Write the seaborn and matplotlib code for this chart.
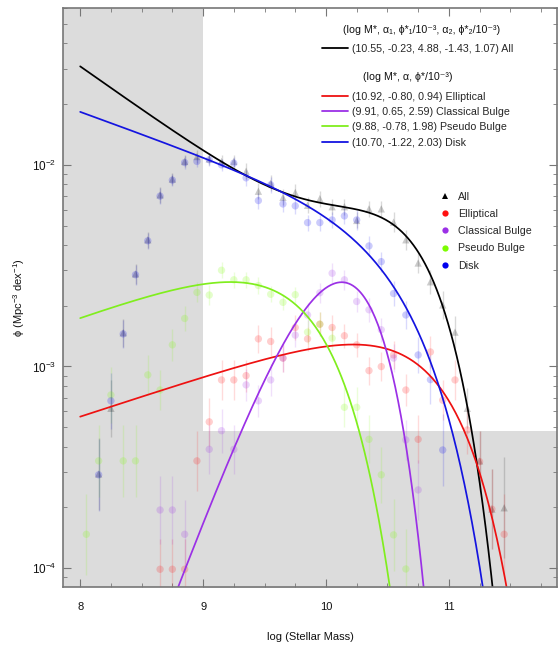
import numpy as np
import pandas as pd
import matplotlib
matplotlib.use("Agg")
import matplotlib.pyplot as plt
from matplotlib.lines import Line2D
from matplotlib.ticker import MultipleLocator, LogLocator
import seaborn as sns

# ---------------- data ----------------
# Schechter fit parameters (from the legend)
ALL_PARAMS = (10.55, -0.23, 4.88, -1.43, 1.07)      # logM*, a1, phi1/1e-3, a2, phi2/1e-3
COMP_NAMES = ["Elliptical", "Classical Bulge", "Pseudo Bulge", "Disk"]
COMP_LOGMSTAR = [10.92, 9.91, 9.88, 10.70]
COMP_ALPHA = [-0.80, 0.65, -0.78, -1.22]
COMP_PHISTAR = [0.94, 2.59, 1.98, 2.03]               # /1e-3

# binned measurements
all_m = [8.15, 8.25, 8.35, 8.45, 8.55, 8.65, 8.75, 8.85, 8.95, 9.05, 9.15, 9.25,
         9.35, 9.45, 9.55, 9.65, 9.75, 9.85, 9.95, 10.05, 10.15, 10.25, 10.35,
         10.45, 10.55, 10.65, 10.75, 10.85, 10.95, 11.05, 11.15, 11.25, 11.35, 11.45]
all_phi = [2.93e-4, 6.2e-4, 1.47e-3, 2.88e-3, 4.25e-3, 7.1e-3, 8.5e-3, 1.04e-2,
           1.10e-2, 1.07e-2, 1.04e-2, 1.04e-2, 9.3e-3, 7.4e-3, 8.1e-3, 6.9e-3,
           7.3e-3, 6.3e-3, 6.8e-3, 6.2e-3, 6.2e-3, 5.3e-3, 6.05e-3, 6.05e-3,
           5.2e-3, 4.25e-3, 3.26e-3, 2.63e-3, 2.02e-3, 1.48e-3, 6.2e-4, 3.4e-4,
           1.96e-4, 1.99e-4]
all_err = [0.18, 0.14, 0.07, 0.05, 0.04, 0.04, 0.03, 0.03, 0.03, 0.03, 0.03, 0.03,
           0.04, 0.04, 0.04, 0.04, 0.04, 0.04, 0.04, 0.04, 0.04, 0.04, 0.04, 0.04,
           0.05, 0.05, 0.05, 0.06, 0.07, 0.08, 0.10, 0.15, 0.20, 0.25]

ell_m = [8.65, 8.75, 8.85, 8.95, 9.05, 9.15, 9.25, 9.35, 9.45, 9.55, 9.65, 9.75,
         9.85, 9.95, 10.05, 10.15, 10.25, 10.35, 10.45, 10.55, 10.65, 10.75,
         10.85, 10.95, 11.05, 11.15, 11.25, 11.35, 11.45]
ell_phi = [9.86e-5, 9.86e-5, 9.86e-5, 3.40e-4, 5.31e-4, 8.57e-4, 8.57e-4, 9.0e-4,
           1.37e-3, 1.33e-3, 1.10e-3, 1.56e-3, 1.37e-3, 1.62e-3, 1.56e-3, 1.42e-3,
           1.28e-3, 9.53e-4, 9.98e-4, 1.14e-3, 7.64e-4, 4.35e-4, 1.18e-3, 6.8e-4,
           8.57e-4, 4.84e-4, 3.37e-4, 1.96e-4, 1.47e-4]
ell_err = [0.15, 0.15, 0.15, 0.15, 0.12, 0.10, 0.10, 0.08, 0.07, 0.07, 0.07, 0.06,
           0.06, 0.06, 0.06, 0.06, 0.06, 0.07, 0.07, 0.07, 0.08, 0.12, 0.08, 0.10,
           0.10, 0.12, 0.15, 0.20, 0.20]

cls_m = [8.65, 8.75, 8.85, 9.05, 9.15, 9.25, 9.35, 9.45, 9.55, 9.65, 9.75, 9.85,
         9.95, 10.05, 10.15, 10.25, 10.35, 10.45, 10.55, 10.65, 10.75]
cls_phi = [1.94e-4, 1.94e-4, 1.47e-4, 3.88e-4, 4.80e-4, 3.88e-4, 8.1e-4, 6.75e-4,
           8.57e-4, 1.10e-3, 1.43e-3, 1.80e-3, 2.32e-3, 2.90e-3, 2.69e-3, 2.10e-3,
           1.91e-3, 1.52e-3, 1.10e-3, 4.32e-4, 2.44e-4]
cls_err = [0.17, 0.17, 0.17, 0.12, 0.11, 0.12, 0.08, 0.08, 0.08, 0.07, 0.06, 0.06,
           0.05, 0.05, 0.05, 0.05, 0.06, 0.06, 0.07, 0.10, 0.15]

pse_m = [8.05, 8.15, 8.25, 8.35, 8.45, 8.55, 8.65, 8.75, 8.85, 8.95, 9.05, 9.15,
         9.25, 9.35, 9.45, 9.55, 9.65, 9.75, 9.85, 9.95, 10.05, 10.15, 10.25,
         10.35, 10.45, 10.55, 10.65]
pse_phi = [1.47e-4, 3.40e-4, 7.22e-4, 3.40e-4, 3.40e-4, 9.08e-4, 7.64e-4, 1.28e-3,
           1.73e-3, 2.33e-3, 2.26e-3, 3.0e-3, 2.69e-3, 2.69e-3, 2.52e-3, 2.28e-3,
           2.08e-3, 2.27e-3, 1.48e-3, 1.62e-3, 1.38e-3, 6.27e-4, 6.27e-4, 4.35e-4,
           2.9e-4, 1.46e-4, 9.89e-5]
pse_err = [0.20, 0.18, 0.14, 0.18, 0.18, 0.10, 0.10, 0.08, 0.06, 0.05, 0.05, 0.04,
           0.04, 0.04, 0.04, 0.04, 0.04, 0.04, 0.06, 0.06, 0.06, 0.10, 0.10, 0.12,
           0.14, 0.18, 0.20]

dsk_m = [8.15, 8.25, 8.35, 8.45, 8.55, 8.65, 8.75, 8.85, 8.95, 9.05, 9.15, 9.25,
         9.35, 9.45, 9.55, 9.65, 9.75, 9.85, 9.95, 10.05, 10.15, 10.25, 10.35,
         10.45, 10.55, 10.65, 10.75, 10.85, 10.95]
dsk_phi = [2.9e-4, 6.75e-4, 1.45e-3, 2.85e-3, 4.2e-3, 7.0e-3, 8.4e-3, 1.027e-2,
           1.04e-2, 1.06e-2, 1.0e-2, 1.02e-2, 8.62e-3, 6.65e-3, 7.96e-3, 6.40e-3,
           6.26e-3, 5.17e-3, 5.17e-3, 5.33e-3, 5.58e-3, 5.33e-3, 3.96e-3, 3.31e-3,
           2.30e-3, 1.80e-3, 1.14e-3, 8.6e-4, 3.85e-4]
dsk_err = [0.18, 0.14, 0.07, 0.05, 0.04, 0.04, 0.03, 0.03, 0.03, 0.03, 0.03, 0.03,
           0.04, 0.04, 0.04, 0.04, 0.04, 0.04, 0.04, 0.04, 0.04, 0.05, 0.05, 0.05,
           0.06, 0.07, 0.09, 0.12, 0.18]

# ---------------- styling ----------------
sns.set_theme(style="ticks")
plt.rcParams["font.family"] = ["Liberation Sans", "DejaVu Sans"]
plt.rcParams["mathtext.fontset"] = "custom"
plt.rcParams["mathtext.rm"] = "Liberation Sans"
plt.rcParams["mathtext.it"] = "Liberation Sans:italic"
plt.rcParams["mathtext.default"] = "regular"

CURVE_COLORS = {"All": "#000000", "Elliptical": "#ee1111", "Classical Bulge": "#9b30e6",
                "Pseudo Bulge": "#80ee1e", "Disk": "#1414e0"}
POINT_COLORS = {"All": "#000000", "Elliptical": "#ff1010", "Classical Bulge": "#9b30e6",
                "Pseudo Bulge": "#7cfc00", "Disk": "#0000ee"}
GRAY = "#dcdcdc"
SPINE = "#777777"
TEXT = "#111111"

XLIM = (7.86, 11.88)
YLIM = (8.05e-5, 0.060)

# ---------------- curves ----------------
LN10 = np.log(10.0)
mgrid = np.linspace(8.0, 11.9, 500)
rows = []
lm, a1, p1, a2, p2 = ALL_PARAMS
x = 10 ** (mgrid - lm)
phi_all = LN10 * np.exp(-x) * x * (p1 * 1e-3 * x ** a1 + p2 * 1e-3 * x ** a2)
rows.append(pd.DataFrame({"M": mgrid, "phi": phi_all, "comp": "All"}))
for name, ms, al, ps in zip(COMP_NAMES, COMP_LOGMSTAR, COMP_ALPHA, COMP_PHISTAR):
    x = 10 ** (mgrid - ms)
    rows.append(pd.DataFrame({"M": mgrid, "phi": LN10 * ps * 1e-3 * x ** (1 + al) * np.exp(-x),
                              "comp": name}))
curves = pd.concat(rows, ignore_index=True)

series = [("All", all_m, all_phi, all_err), ("Elliptical", ell_m, ell_phi, ell_err),
          ("Classical Bulge", cls_m, cls_phi, cls_err), ("Pseudo Bulge", pse_m, pse_phi, pse_err),
          ("Disk", dsk_m, dsk_phi, dsk_err)]
pts = pd.concat([pd.DataFrame({"M": m, "phi": p, "err": e, "comp": n}) for n, m, p, e in series],
                ignore_index=True)

# ---------------- figure ----------------
fig = plt.figure(figsize=(5.58, 6.48), dpi=100)
ax = fig.add_axes([63 / 558, 1 - 587 / 648, (557 - 63) / 558, (587 - 8) / 648])
ax.set_facecolor("white")
ax.set_yscale("log")
ax.set_xlim(*XLIM)
ax.set_ylim(*YLIM)

# shaded (incomplete) regions
ax.axvspan(XLIM[0], 9.0, color=GRAY, lw=0, zorder=0)
ax.fill_between([9.0, XLIM[1]], YLIM[0] * 0.5, 4.8e-4, color=GRAY, lw=0, zorder=0)

# error bars
for name, m, p, e in series:
    p = np.asarray(p)
    e = np.asarray(e)
    lo = p - p * 10 ** (-e)
    hi = p * 10 ** e - p
    ax.errorbar(m, p, yerr=[lo, hi], fmt="none", ecolor=POINT_COLORS[name],
                elinewidth=1.0, alpha=0.15, zorder=1)

sns.scatterplot(data=pts, x="M", y="phi", hue="comp", style="comp",
                palette=POINT_COLORS, markers={"All": "^", "Elliptical": "o",
                                               "Classical Bulge": "o", "Pseudo Bulge": "o",
                                               "Disk": "o"},
                s=28, alpha=0.2, linewidth=0, legend=False, ax=ax, zorder=2)

sns.lineplot(data=curves, x="M", y="phi", hue="comp", palette=CURVE_COLORS,
             estimator=None, sort=False, lw=1.25, legend=False, ax=ax, zorder=3)

ax.set_xlim(*XLIM)
ax.set_ylim(*YLIM)

# axes styling
for s in ax.spines.values():
    s.set_color(SPINE)
    s.set_linewidth(1.2)
    s.set_zorder(5)
ax.xaxis.set_major_locator(MultipleLocator(1))
ax.xaxis.set_minor_locator(MultipleLocator(0.25))
ax.yaxis.set_major_locator(LogLocator(base=10))
ax.yaxis.set_minor_locator(LogLocator(base=10, subs=np.arange(2, 10)))
ax.tick_params(which="both", direction="in", top=True, right=True, color=SPINE,
               labelcolor=TEXT)
ax.tick_params(which="major", length=6, width=0.8)
ax.tick_params(which="minor", length=3, width=0.6)
ax.tick_params(axis="x", pad=11, labelsize=8)
ax.tick_params(axis="y", pad=5, labelsize=8.5)

ax.set_xlabel("log (Stellar Mass)", fontsize=8, labelpad=14, color=TEXT)
ax.set_ylabel("ϕ (Mpc$^{-3}$ dex$^{-1}$)", fontsize=8, labelpad=3, color=TEXT)

# ---------------- legends ----------------
fs = 7.7
fig.text(422 / 558, 1 - 30 / 648, "(log M*, α₁, ϕ*₁/10⁻³, α₂, ϕ*₂/10⁻³)",
         ha="center", va="center", fontsize=fs, color=TEXT)
fig.text(408 / 558, 1 - 77 / 648, "(log M*, α, ϕ*/10⁻³)",
         ha="center", va="center", fontsize=fs, color=TEXT)

leg1 = fig.legend(handles=[Line2D([], [], color=CURVE_COLORS["All"], lw=1.3)],
                  labels=["(10.55, -0.23, 4.88, -1.43, 1.07) All"],
                  loc="upper left", bbox_to_anchor=(322 / 558, 1 - 43.5 / 648),
                  frameon=False, fontsize=fs, handlelength=2.4,
                  handletextpad=0.4, borderpad=0, borderaxespad=0, labelspacing=0.5)

comp_labels = [f"({ms:.2f}, {al:.2f}, {ps:.2f}) {n}"
               for n, ms, al, ps in zip(COMP_NAMES, COMP_LOGMSTAR, COMP_ALPHA, COMP_PHISTAR)]
leg2 = fig.legend(handles=[Line2D([], [], color=CURVE_COLORS[n], lw=1.3) for n in COMP_NAMES],
                  labels=comp_labels,
                  loc="upper left", bbox_to_anchor=(322 / 558, 1 - 91.5 / 648),
                  frameon=False, fontsize=fs, handlelength=2.4,
                  handletextpad=0.4, borderpad=0, borderaxespad=0, labelspacing=0.5)

pt_names = ["All", "Elliptical", "Classical Bulge", "Pseudo Bulge", "Disk"]
pt_handles = [Line2D([], [], ls="", marker="^" if n == "All" else "o", ms=4.5,
                     color=POINT_COLORS[n], markeredgewidth=0) for n in pt_names]
leg3 = fig.legend(handles=pt_handles, labels=pt_names, loc="upper left",
                  bbox_to_anchor=(440 / 558, 1 - 191.5 / 648), frameon=False, fontsize=fs,
                  handlelength=1.0, handletextpad=0.7, borderpad=0, borderaxespad=0,
                  labelspacing=0.68)

fig.savefig("out.png", dpi=100)
